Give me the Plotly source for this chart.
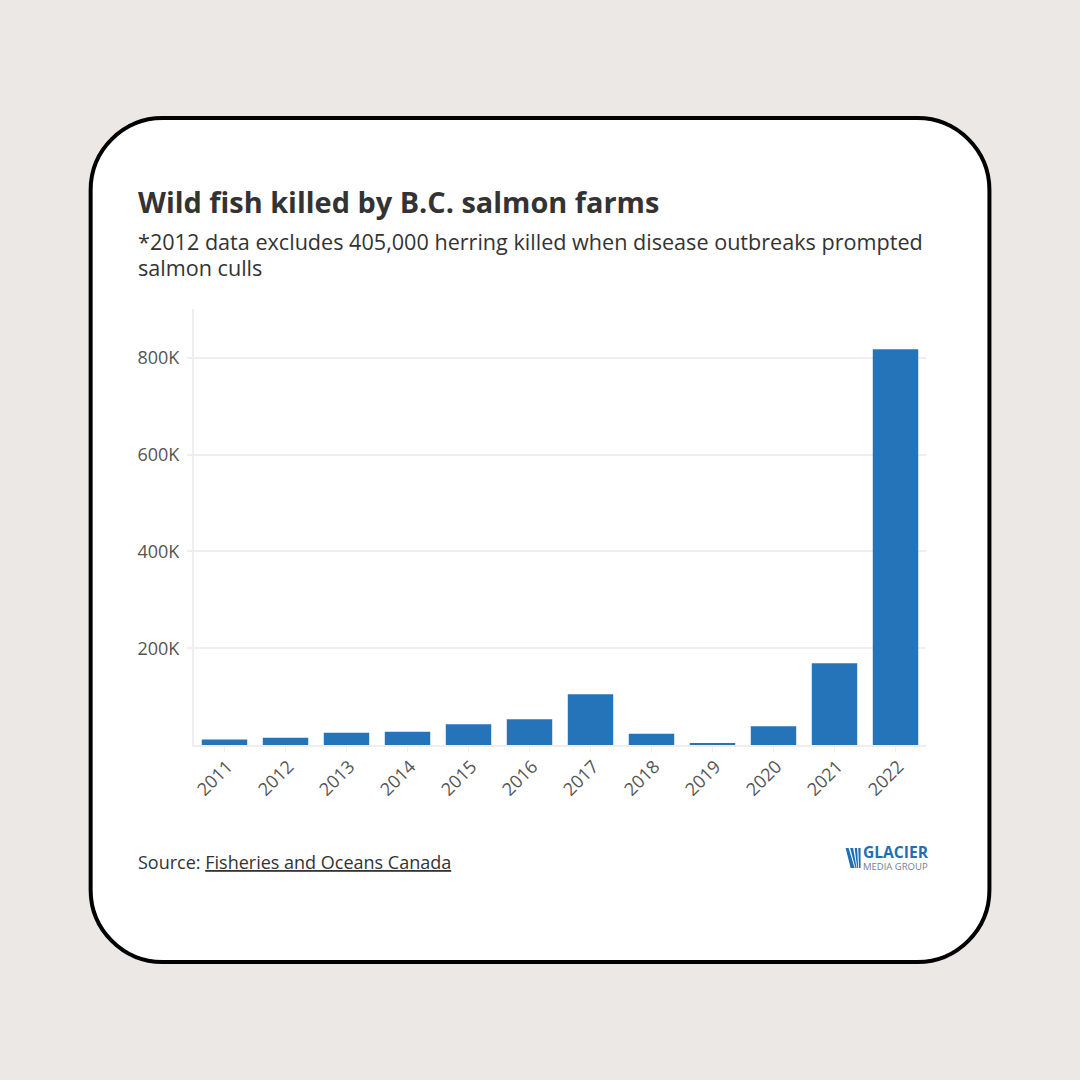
import plotly.graph_objects as go

# --- data ---
years = ['2011', '2012', '2013', '2014', '2015', '2016', '2017', '2018', '2019', '2020', '2021', '2022']
fish_killed = [11500, 15000, 25500, 27500, 43000, 53000, 105000, 23000, 4000, 38500, 169000, 818000]
y_ticks = [200000, 400000, 600000, 800000]
y_labels = ['200K', '400K', '600K', '800K']

TITLE = 'Wild fish killed by B.C. salmon farms'
SUBTITLE_1 = '*2012 data excludes 405,000 herring killed when disease outbreaks prompted'
SUBTITLE_2 = 'salmon culls'
SOURCE = 'Source: <u>Fisheries and Oceans Canada</u>'

# --- layout constants (pixels in the 1080 page) ---
W, H = 1080, 1080
LEFT, RIGHT, TOP, BOTTOM = 193.5, 926.5, 309, 745
FONT = 'Open Sans'
BLUE = '#2574b9'
LOGO_BLUE = '#1f6fb2'


def px(x):
    return (x - LEFT) / (RIGHT - LEFT)


def py(y):
    return (BOTTOM - y) / (BOTTOM - TOP)


def pt(x, y):
    return f'{px(x):.5f},{py(y):.5f}'


def card_path(x0, y0, x1, y1, r):
    k = r * 0.45
    return (
        f'M {pt(x0 + r, y0)} L {pt(x1 - r, y0)} '
        f'C {pt(x1 - k, y0)} {pt(x1, y0 + k)} {pt(x1, y0 + r)} '
        f'L {pt(x1, y1 - r)} '
        f'C {pt(x1, y1 - k)} {pt(x1 - k, y1)} {pt(x1 - r, y1)} '
        f'L {pt(x0 + r, y1)} '
        f'C {pt(x0 + k, y1)} {pt(x0, y1 - k)} {pt(x0, y1 - r)} '
        f'L {pt(x0, y0 + r)} '
        f'C {pt(x0, y0 + k)} {pt(x0 + k, y0)} {pt(x0 + r, y0)} Z'
    )


def note(text, x, y, size, color, anchor='left', yanchor='middle'):
    return dict(text=text, x=px(x), y=py(y), xref='paper', yref='paper', showarrow=False,
                xanchor=anchor, yanchor=yanchor, align='left', borderpad=0,
                font=dict(family=FONT, size=size, color=color))


fig = go.Figure()
fig.add_trace(go.Bar(x=years, y=fish_killed, marker=dict(color=BLUE, line_width=0), width=0.745))

shapes = [dict(type='path', path=card_path(90, 118, 990, 962, 72), xref='paper', yref='paper',
               fillcolor='white', line=dict(color='black', width=4), layer='below')]

# logo fan, wedges running down to the bottom right of the mark
for wedge in [
    [(846, 848), (849, 848), (855, 868), (851, 868)],
    [(850.5, 848), (853.5, 848), (857, 868), (855.8, 868)],
    [(855, 848), (857.5, 848), (858.6, 868), (857.6, 868)],
    [(858.7, 848), (861, 848), (861, 868), (859.4, 868)],
]:
    path = 'M ' + ' L '.join(pt(x, y) for x, y in wedge) + ' Z'
    shapes.append(dict(type='path', xref='paper', yref='paper', fillcolor=LOGO_BLUE, line_width=0, path=path))

# line height follows the annotation font, the spans set the drawn size
subtitle_text = (f'<span style="font-size:21.6px">{SUBTITLE_1}</span>'
                 f'<br><span style="font-size:21.6px">{SUBTITLE_2}</span>')
logo_text = (f'<span style="font-size:15.6px;color:{LOGO_BLUE}"><b>GLACIER</b></span>'
             '<br>MEDIA GROUP')

fig.update_layout(
    width=W, height=H,
    margin=dict(l=LEFT, r=W - RIGHT, t=TOP, b=H - BOTTOM, pad=0, autoexpand=False),
    paper_bgcolor='#ece8e5',
    plot_bgcolor='rgba(0,0,0,0)',
    showlegend=False,
    shapes=shapes,
    font=dict(family=FONT),
    annotations=[
        note('<b>' + TITLE + '</b>', 136.5, 201.5, 28.9, '#333333'),
        note(subtitle_text, 136.5, 254, 20, '#333333'),
        note(SOURCE, 136.5, 861.5, 18, '#333333'),
        note(logo_text, 862.5, 857, 9.5, '#6f8296'),
    ],
    xaxis=dict(
        type='category', tickmode='array', tickvals=years, ticktext=years, tickangle=-45,
        range=[-0.5, 11.5], showgrid=False, showline=True, linecolor='#eeeeee', linewidth=2,
        ticks='outside', ticklen=5, tickwidth=1, tickcolor='#eeeeee',
        ticklabelshift=3, ticklabelstandoff=-3,
        tickfont=dict(family=FONT, size=18, color='#555555'),
    ),
    yaxis=dict(
        range=[0, 901000], tickmode='array', tickvals=y_ticks, ticktext=y_labels,
        showgrid=True, gridcolor='#eeeeee', gridwidth=2, zeroline=False,
        showline=True, linecolor='#eeeeee', linewidth=2,
        ticks='outside', ticklen=5, tickwidth=2, tickcolor='#eeeeee', ticklabelstandoff=4,
        tickfont=dict(family=FONT, size=18, color='#555555'),
    ),
)

# page body margin would otherwise push the figure 8px in
fig.write_html("out.html", config={'displayModeBar': False},
               post_script="document.body.style.margin = '0';")
